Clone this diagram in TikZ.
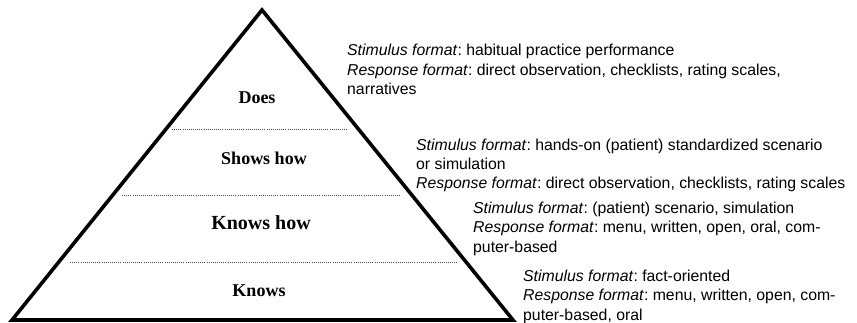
\documentclass[tikz,border=0pt]{standalone}
\usepackage{fontspec}
\setmainfont{Liberation Sans}
\newfontfamily\pyrfont{Liberation Serif}
\frenchspacing
\begin{document}
\begin{tikzpicture}[x=1pt,y=-1pt,
  txt/.style={anchor=base west,inner sep=0pt,font=\fontsize{15.8}{19.3}\selectfont},
  lvl/.style={anchor=base,inner sep=0pt,font=\pyrfont\bfseries\fontsize{18}{20}\selectfont},
  sep/.style={draw=black!70,line width=0.9pt,dash pattern=on 1pt off 1.1pt},
  edge/.style={draw=black,line width=3.6pt,line join=miter}]
\useasboundingbox (0,0) rectangle (857,323);
% pyramid
\coordinate (apex) at (262,10);
\coordinate (bl) at (12,320);
\coordinate (br) at (513,320);
\draw[edge] (bl) -- (apex) -- (br) -- cycle;
% separators
\coordinate (s1l) at (172,129.5); \coordinate (s1r) at (348,129.5);
\coordinate (s2l) at (122,195.7); \coordinate (s2r) at (400,195.7);
\coordinate (s3l) at (70,262.3); \coordinate (s3r) at (457,262.3);
\draw[sep] (s1l) -- (s1r);
\draw[sep] (s2l) -- (s2r);
\draw[sep] (s3l) -- (s3r);
% level labels
\node[lvl] (does) at (257,104) {Does};
\node[lvl] (shows) at (264,165) {Shows how};
\node[lvl,font=\pyrfont\bfseries\fontsize{20}{22}\selectfont] (knowshow) at (261,230) {Knows how};
\node[lvl] (knows) at (259,297) {Knows};
% descriptions
\node[txt] (a1) at (347,56) {\textit{Stimulus format}: habitual practice performance};
\node[txt] (a2) at (347,75.5) {\textit{Response format}: direct observation, checklists, rating scales,};
\node[txt] (a3) at (347,95) {narratives};
\node[txt] (b1) at (416,150.5) {\textit{Stimulus format}: hands-on (patient) standardized scenario};
\node[txt] (b2) at (416,169.5) {or simulation};
\node[txt] (b3) at (416,188.5) {\textit{Response format}: direct observation, checklists, rating scales};
\node[txt] (c1) at (473,214) {\textit{Stimulus format}: (patient) scenario, simulation};
\node[txt] (c2) at (473,233) {\textit{Response format}: menu, written, open, oral, com-};
\node[txt] (c3) at (473,252.5) {puter-based};
\node[txt] (d1) at (523,281) {\textit{Stimulus format}: fact-oriented};
\node[txt] (d2) at (523,300.5) {\textit{Response format}: menu, written, open, com-};
\node[txt] (d3) at (523,320) {puter-based, oral};
\end{tikzpicture}
\end{document}
